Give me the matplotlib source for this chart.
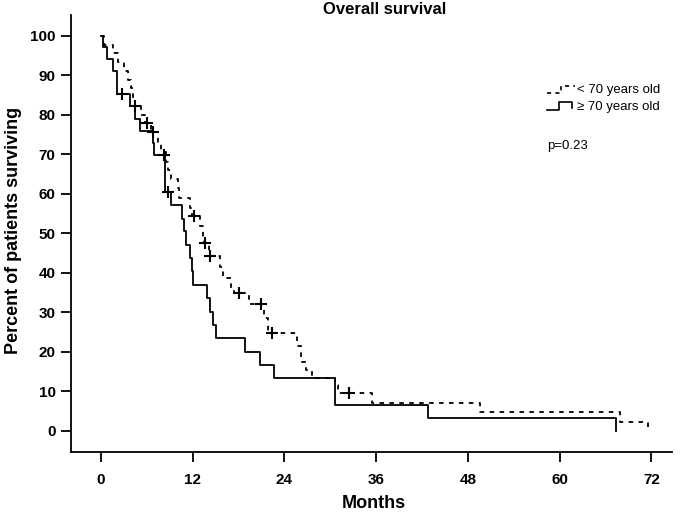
import numpy as np
import matplotlib
matplotlib.use("Agg")
import matplotlib.pyplot as plt
from matplotlib.lines import Line2D

plt.rcParams['font.family'] = ['Liberation Sans', 'DejaVu Sans']

# < 70 years old (dashed): step times (months) and survival after each step (%)
young_t = [0, 0.4, 1.5, 2.2, 3.0, 3.5, 3.9, 4.2, 4.4, 5.2, 5.7, 6.5, 7.5, 7.8,
           8.5, 8.8, 9.2, 10.1, 10.25, 11.6, 11.9, 12.9, 13.3, 13.5, 14.1, 15.6,
           16.0, 17.0, 17.4, 19.3, 21.3, 21.8, 25.6, 26.2, 26.8, 27.6, 30.6, 31.0,
           35.4, 49.6, 67.9, 71.5]
young_s = [100, 97.8, 95.6, 93.3, 91.1, 88.9, 86.7, 84.4, 82.2, 80.0, 78.0, 75.6,
           73.2, 70.6, 68.2, 66.0, 63.8, 61.4, 58.9, 56.5, 54.4, 51.8, 49.2, 47.5,
           44.3, 41.5, 38.8, 36.2, 35.0, 32.2, 28.5, 24.9, 21.4, 17.5, 15.5, 13.3,
           11.6, 9.5, 7.1, 4.7, 2.35, 0]
young_cens_t = [4.45, 6.0, 6.85, 12.2, 13.6, 14.3, 18.0, 20.9, 22.4, 32.4]
young_cens_s = [82.2, 78.0, 75.6, 54.4, 47.5, 44.3, 35.0, 32.2, 24.9, 9.5]

# >= 70 years old (solid)
old_t = [0, 0.2, 0.8, 1.5, 2.1, 3.8, 4.45, 5.1, 6.75, 6.9, 8.4, 9.1, 10.6, 10.9,
         11.1, 11.6, 11.9, 12.0, 13.8, 14.3, 14.6, 15.0, 18.8, 20.8, 22.6, 30.6,
         42.8, 67.4]
old_s = [100, 97.1, 94.1, 91.2, 85.3, 82.2, 79.1, 76.0, 72.8, 69.9, 60.6, 57.2,
         53.6, 50.5, 47.1, 43.7, 40.4, 37.0, 33.6, 30.2, 26.8, 23.5, 20.1, 16.7,
         13.3, 6.7, 3.3, 0]
old_cens_t = [2.8, 8.2, 8.8]
old_cens_s = [85.3, 69.9, 60.6]

W, H = 682, 515
fig = plt.figure(figsize=(W / 100, H / 100), dpi=100)
ax = fig.add_axes([71 / W, 1 - 452 / H, (672 - 71) / W, (452 - 15) / H])

ax.step(young_t, young_s, where='post', color='black', lw=1.3, linestyle=(0, (2.5, 3)))
ax.step(old_t, old_s, where='post', color='black', lw=1.3)
ax.plot(young_cens_t, young_cens_s, linestyle='none', marker='+', ms=9, mew=1.5, color='black')
ax.plot(old_cens_t, old_cens_s, linestyle='none', marker='+', ms=9, mew=1.5, color='black')

ax.set_xlim(-3.93, 74.7)
ax.set_ylim(-5.32, 105.3)
ax.set_xticks(np.arange(0, 73, 12))
ax.set_yticks(np.arange(0, 101, 10))
for s in ['top', 'right']:
    ax.spines[s].set_visible(False)
for s in ['left', 'bottom']:
    ax.spines[s].set_linewidth(1.3)
ax.tick_params(axis='both', direction='out', length=7, width=1.3, labelsize=11)
ax.tick_params(axis='x', pad=8)
ax.tick_params(axis='y', pad=4)
for lab in ax.get_xticklabels() + ax.get_yticklabels():
    lab.set_fontweight('bold')

fig.text(14 / W, 1 - 230 / H, 'Percent of patients surviving', rotation=90,
         ha='center', va='center', fontsize=13, fontweight='bold')
fig.text(374 / W, 1 - 503 / H, 'Months', ha='center', va='center',
         fontsize=13, fontweight='bold')
fig.text(385 / W, 1 - 9 / H, 'Overall survival', ha='center', va='center',
         fontsize=12, fontweight='bold')

# legend handles drawn by hand
def px(x, y):
    return x / W, 1 - y / H

hx, hy = zip(px(547, 93), px(561, 93), px(561, 86), px(575, 86))
fig.add_artist(Line2D(hx, hy, color='black', lw=1.2, linestyle=(0, (2.5, 2.5))))
hx, hy = zip(px(547, 110), px(559, 110), px(559, 102), px(572, 102), px(572, 108))
fig.add_artist(Line2D(hx, hy, color='black', lw=1.2))
fig.text(577 / W, 1 - 90 / H, '< 70 years old', ha='left', va='center', fontsize=9.5)
fig.text(577 / W, 1 - 107 / H, '≥ 70 years old', ha='left', va='center', fontsize=9.5)
fig.text(547 / W, 1 - 146 / H, 'p=0.23', ha='left', va='center', fontsize=9.5)

fig.savefig('out.png', dpi=100)
